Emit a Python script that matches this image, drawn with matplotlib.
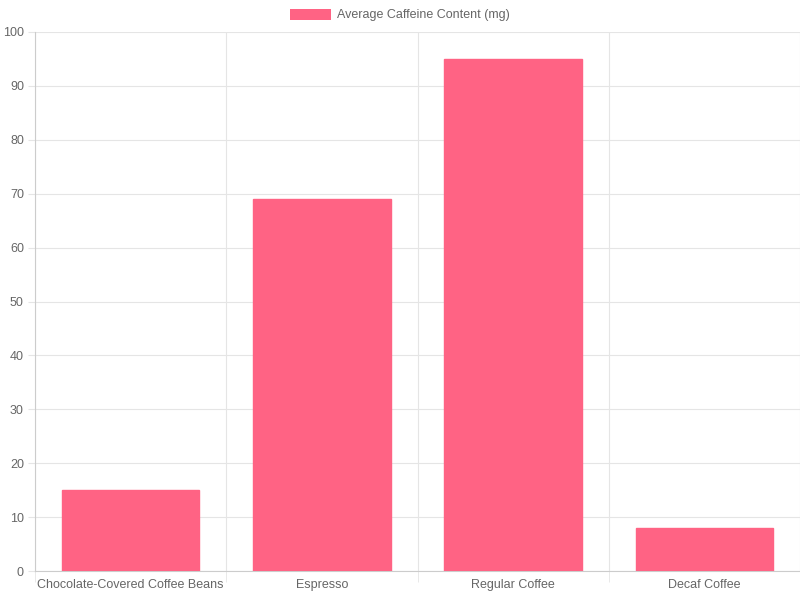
import matplotlib
matplotlib.use("Agg")
import matplotlib.pyplot as plt
from matplotlib.patches import Patch

categories = ["Chocolate-Covered Coffee Beans", "Espresso", "Regular Coffee", "Decaf Coffee"]
values = [15, 69, 95, 8]
label = "Average Caffeine Content (mg)"

plt.rcParams['font.family'] = ['Liberation Sans', 'DejaVu Sans']
fig = plt.figure(figsize=(8, 6), dpi=100)
ax = fig.add_axes([35/800, 29/600, 765/800, 539/600])
x = list(range(len(categories)))
ax.bar(x, values, width=0.72, color='#FF6384', edgecolor='#FF6384', zorder=3)
ax.set_xlim(-0.5, len(categories) - 0.5)
ax.set_ylim(0, 100)
ax.set_yticks(range(0, 101, 10))
ax.set_xticks(x)
ax.set_xticklabels(categories)
ax.set_xticks([i + 0.5 for i in range(-1, len(categories))], minor=True)
ax.tick_params(axis='x', which='major', length=0, pad=6, labelsize=9, labelcolor='#666666')
ax.tick_params(axis='x', which='minor', length=8, color='#e5e5e5')
ax.tick_params(axis='y', length=5, color='#e5e5e5', labelsize=9, labelcolor='#666666', pad=3)
ax.grid(axis='y', color='#e5e5e5', linewidth=0.8, zorder=0)
ax.grid(axis='x', which='minor', color='#e5e5e5', linewidth=0.8, zorder=0)
for s in ['top', 'right']:
    ax.spines[s].set_visible(False)
for s in ['left', 'bottom']:
    ax.spines[s].set_color('#cccccc')
    ax.spines[s].set_linewidth(0.8)
fig.legend(handles=[Patch(facecolor='#FF6384', label=label)], loc='center',
           bbox_to_anchor=(0.5, 1 - 15/600), frameon=False, fontsize=9,
           labelcolor='#666666', handlelength=3.3, handleheight=1.0, handletextpad=0.5)
fig.savefig("out.png", dpi=100)
